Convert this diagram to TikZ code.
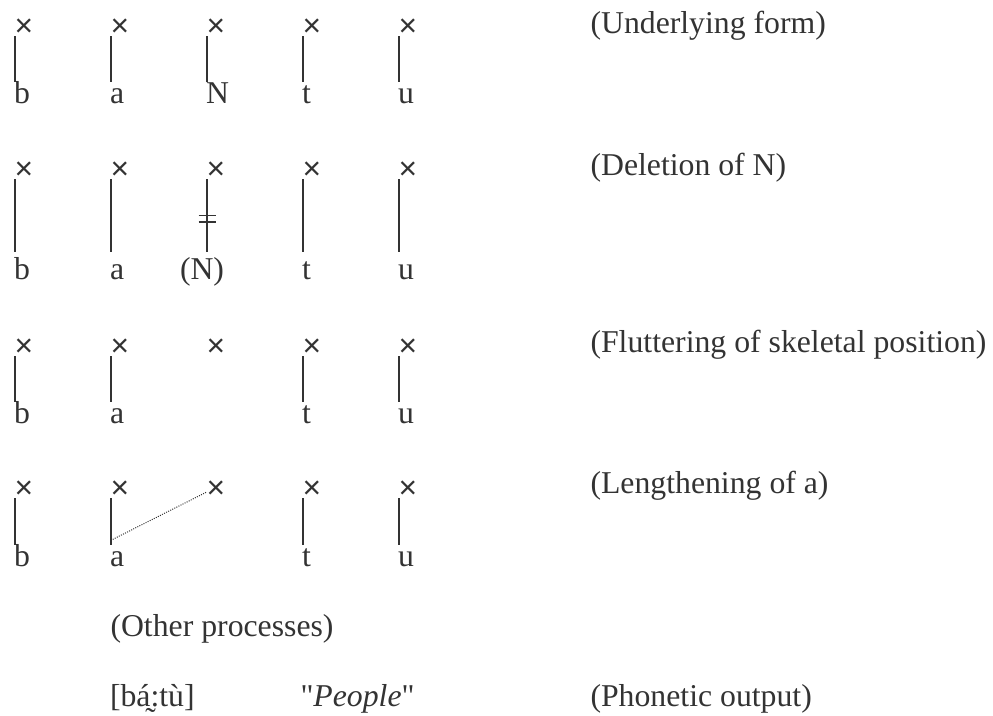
\documentclass[tikz,border=0pt]{standalone}
\usepackage{fontspec}
\setmainfont{Liberation Serif}[Ligatures=TeXOff]
\newfontfamily\crossfont{Liberation Sans}
\usetikzlibrary{calc}
\definecolor{ink}{HTML}{333333}
\begin{document}
\begin{tikzpicture}[x=1pt,y=-1pt,
  every node/.style={inner sep=0pt, outer sep=0pt, text=ink,
    font=\fontsize{31.75}{38}\selectfont},
  slot/.style={anchor=base, font=\crossfont\fontsize{31.75}{38}\selectfont},
  seg/.style={anchor=base west, text height=20.6pt, text depth=0pt},
  tie/.style={draw=ink, line width=1.6pt},
  gloss/.style={anchor=base west},
]
\useasboundingbox (0,0) rectangle (993,715);

% skeletal slots (x) for the four derivation stages
\foreach \r/\cy in {1/25,2/168,3/345,4/487}
  \foreach \c/\cx in {1/24,2/120,3/216,4/312,5/408}
    \node[slot] (x\r\c) at (\cx,\cy+11) {×};

% segments
\node[seg] (s11) at (14,103) {b};
\node[seg] (s12) at (110,103) {a};
\node[seg] (s13) at (206,103) {N};
\node[seg] (s14) at (302,103) {t};
\node[seg] (s15) at (398,103) {u};

\node[seg] (s21) at (14,279) {b};
\node[seg] (s22) at (110,279) {a};
\node[seg] (s23) at (180,279) {(N)};
\node[seg] (s24) at (302,279) {t};
\node[seg] (s25) at (398,279) {u};

\node[seg] (s31) at (14,423) {b};
\node[seg] (s32) at (110,423) {a};
\node[seg] (s34) at (302,423) {t};
\node[seg] (s35) at (398,423) {u};

\node[seg] (s41) at (14,566) {b};
\node[seg] (s42) at (110,566) {a};
\node[seg] (s44) at (302,566) {t};
\node[seg] (s45) at (398,566) {u};

% association lines
\foreach \n in {11,12,13,14,15,31,32,34,35,41,42,44,45}
  \draw[tie] (x\n.base west) -- (x\n.base west |- s\n.north);
\foreach \n in {21,22,23,24,25}
  \draw[tie, shorten >=6.4pt] (x\n.base west) -- (x\n.base west |- s\n.north);

% delinking mark on the N association
\coordinate (cut) at ($(x23.base west)!0.5!(x23.base west |- s23.north)$);
\draw[tie, line width=1.4pt] ([xshift=-8pt,yshift=3.3pt]cut) -- ([xshift=9pt,yshift=3.3pt]cut);
\draw[tie, line width=1.4pt] ([xshift=-8pt,yshift=-3.3pt]cut) -- ([xshift=9pt,yshift=-3.3pt]cut);

% spreading of a to the empty slot
\draw[ink, line width=1pt, dash pattern=on 1pt off 1.3pt]
  ($(x42.base west |- s42.north)+(2pt,6pt)$) -- ([yshift=6pt]x43.base west);

% stage labels
\node[gloss] (l1) at (590.5,33) {(Underlying form)};
\node[gloss] (l2) at (590.5,175) {(Deletion of N)};
\node[gloss] (l3) at (590.5,352) {(Fluttering of skeletal position)};
\node[gloss] (l4) at (590.5,493) {(Lengthening of a)};
\node[gloss] (l5) at (110.5,636) {(Other processes)};

% output
\node[gloss] (p1) at (110,706) {[bá̰:tù]};
\node[gloss] (p2) at (300.5,706) {"\textit{People}"};
\node[gloss] (p3) at (590.5,706) {(Phonetic output)};
\end{tikzpicture}
\end{document}
